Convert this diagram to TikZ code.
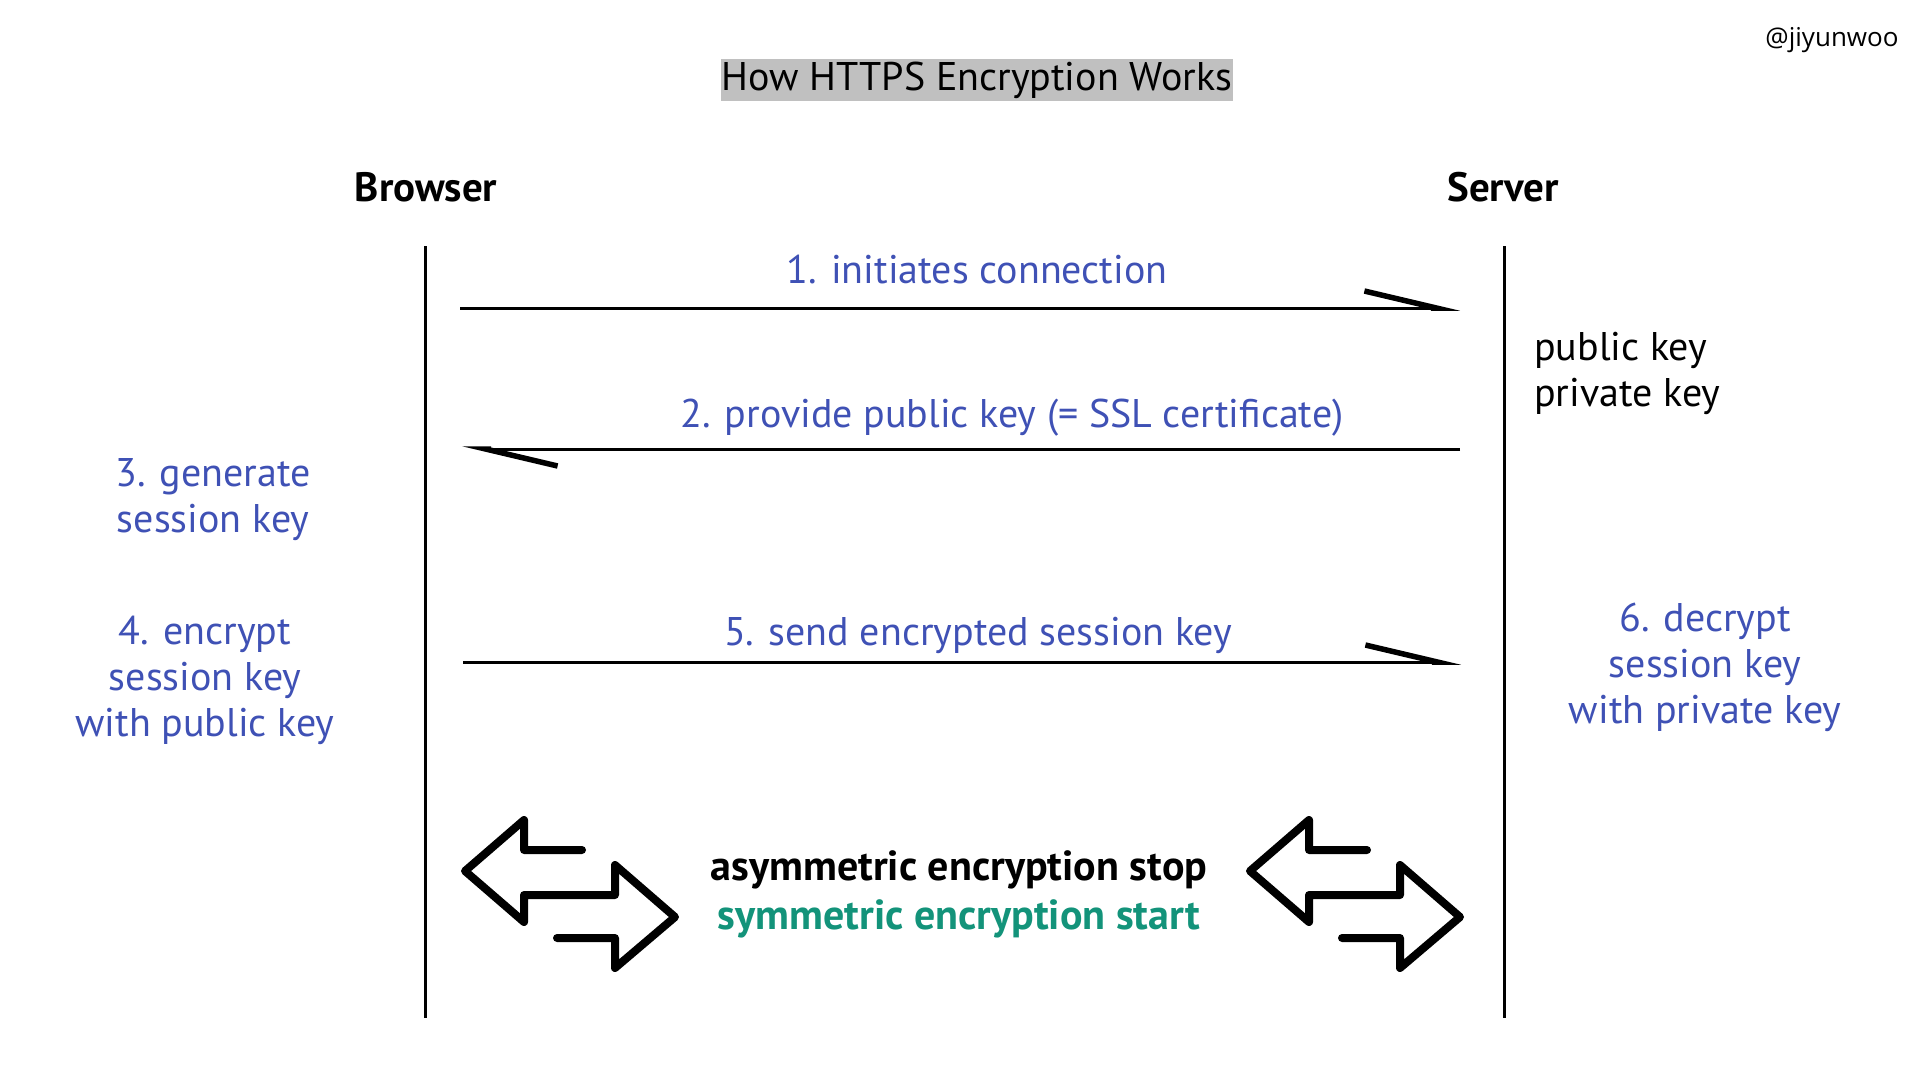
\documentclass[tikz,border=0pt]{standalone}
\usepackage{fontspec}
\setmainfont{PT Sans}
\newfontfamily\tagfont{Open Sans}
\usepackage{xcolor}
\definecolor{cStep}{HTML}{3F51B5}
\definecolor{cSym}{HTML}{13937A}
\definecolor{cHilite}{HTML}{C0C0C0}
\usepackage{tikz}
\usetikzlibrary{positioning,arrows.meta}
\tikzset{
  txt-main/.style={font=\fontsize{40pt}{46pt}\selectfont,inner sep=0pt,anchor=base},
  txt-head/.style={txt-main,font=\fontsize{41pt}{46pt}\selectfont\bfseries},
  txt-switch/.style={txt-main,font=\fontsize{42pt}{46pt}\selectfont\bfseries},
  txt-step/.style={txt-main,text=cStep,align=center},
  lifeline/.style={line width=3pt,draw=black},
  msg-arrow/.style={line width=3pt,draw=black,
    -{Straight Barb[harpoon,length=72pt,width=34pt,line width=5.5pt]}},
  swap-icon/.pic={
    \draw[line width=8pt,line cap=round,line join=round]
      (117,-21) -- (59,-21) -- (59,-51) -- (0,0) -- (59,51) -- (59,24)
      -- (150,24) -- (150,-6) -- (210,46) -- (150,97) -- (150,67) -- (92,67);
  },
}

\begin{document}
\begin{tikzpicture}[x=1pt,y=-1pt]
  \useasboundingbox (0,0) rectangle (1920,1080);

  % title and tag
  \node[txt-main,fill=cHilite,inner xsep=1pt,inner ysep=3pt] (title) at (977,90) {How HTTPS Encryption Works};
  \node[txt-main,font=\fontsize{26pt}{30pt}\tagfont] (tag) at (1832,46) {@jiyunwoo};

  % the two parties
  \node[txt-head] (browser) at (426,201) {Browser};
  \node[txt-head] (server) at (1503,201) {Server};
  \coordinate (browser-top) at (425,246);
  \coordinate (browser-end) at (425,1018);
  \coordinate (server-top) at (1504,246);
  \coordinate (server-end) at (1504,1018);
  \draw[lifeline] (browser-top) -- (browser-end);
  \draw[lifeline] (server-top) -- (server-end);

  % messages
  \coordinate (m1-from) at (460,308);  \coordinate (m1-to) at (1460,308);
  \coordinate (m2-from) at (1460,449); \coordinate (m2-to) at (462,449);
  \coordinate (m5-from) at (463,662);  \coordinate (m5-to) at (1461,662);
  \draw[msg-arrow] (m1-from) -- (m1-to);
  \draw[msg-arrow] (m2-from) -- (m2-to);
  \draw[msg-arrow] (m5-from) -- (m5-to);
  \node[txt-step] (m1-label) at (977,283) {1. initiates connection};
  \node[txt-step] (m2-label) at (1012,427) {2. provide public key (= SSL certificate)};
  \node[txt-step] (m5-label) at (978,645) {5. send encrypted session key};

  % local steps (base = last line)
  \node[txt-main,align=left,anchor=base west] (keys) at (1534,406) {public key\\private key};
  \node[txt-step] (step3) at (213,532) {3. generate\\session key};
  \node[txt-step] (step4) at (205,736) {4. encrypt\\session key\\with public key};
  \node[txt-step] (step6) at (1705,723) {6. decrypt\\session key\\with private key};

  % switch to symmetric
  \pic (icon-left) at (465,871) {swap-icon};
  \pic (icon-right) at (1250,871) {swap-icon};
  \node[txt-switch] (asym) at (959,880) {asymmetric encryption stop};
  \node[txt-switch,text=cSym] (sym) at (959,929) {symmetric encryption start};
\end{tikzpicture}
\end{document}
